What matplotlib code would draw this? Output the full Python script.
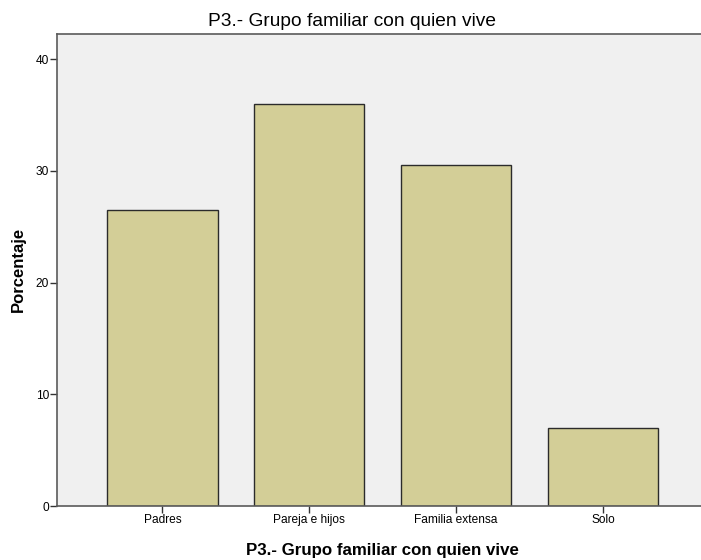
import matplotlib.pyplot as plt
import numpy as np

plt.rcParams['font.family'] = ['Liberation Sans', 'DejaVu Sans']

categorias = ['Padres', 'Pareja e hijos', 'Familia extensa', 'Solo']
porcentaje = [26.5, 36.0, 30.5, 7.0]
yticks = [0, 10, 20, 30, 40]

fig = plt.figure(figsize=(7.01, 5.6), dpi=100)
ax = fig.add_axes([0.082, 0.0964, 0.928, 0.842])
ax.set_facecolor('#F0F0F0')

x = np.arange(len(categorias))
ax.bar(x, porcentaje, width=0.75, color='#D3CE97', edgecolor='#2b2b2b', linewidth=1)

ax.set_xlim(-0.715, 3.715)
ax.set_ylim(0, 42.2)
ax.set_xticks(x)
ax.set_xticklabels(categorias, fontsize=8.6)
ax.set_yticks(yticks)
ax.set_yticklabels([str(v) for v in yticks], fontsize=8.6)
ax.tick_params(axis='both', length=5, width=1, color='#333333', pad=1)

for s in ax.spines.values():
    s.set_color('#5a5a5a')
    s.set_linewidth(1.2)

# titulo y etiquetas
fig.text(0.502, 0.9536, 'P3.- Grupo familiar con quien vive', ha='center', va='baseline', fontsize=13.8)
fig.text(0.545, 0.009, 'P3.- Grupo familiar con quien vive', ha='center', va='baseline',
         fontsize=12.2, fontweight='bold')
fig.text(0.033, 0.518, 'Porcentaje', ha='center', va='baseline', rotation=90,
         rotation_mode='anchor', fontsize=12, fontweight='bold')

fig.savefig('out.png', dpi=100)
